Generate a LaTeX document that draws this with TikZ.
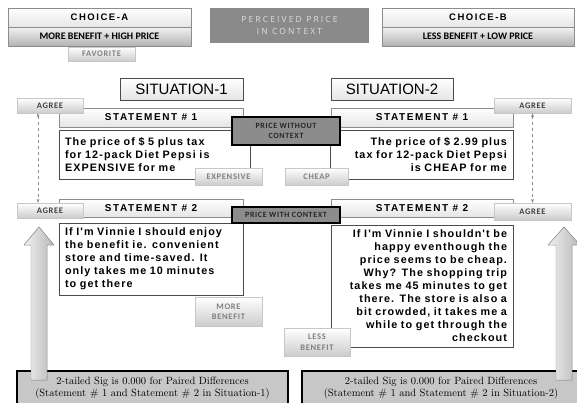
\documentclass[tikz,border=0pt]{standalone}
\usepackage{fontspec}
\newfontfamily\txtfont[LetterSpace=10, WordSpace=1.6]{Liberation Sans}
\newfontfamily\headfont[LetterSpace=16]{Liberation Sans}
\newfontfamily\sitfont{Liberation Sans}
\newfontfamily\tagfont[LetterSpace=8]{Carlito}
\newfontfamily\subfont{Carlito}
\newfontfamily\perfont[LetterSpace=25]{Open Sans}
\usetikzlibrary{shadows, arrows.meta}

\begin{document}
\begin{tikzpicture}[x=1pt, y=-1pt, every node/.style={inner sep=0pt},
    shadowed/.style={drop shadow={shadow xshift=1.2pt, shadow yshift=-1.2pt, opacity=.35}},
    headbox/.style={draw=black!45, top color=white, bottom color=black!10, shadowed},
    subbox/.style={draw=black!45, top color=black!5, bottom color=black!30,
        font=\subfont\bfseries\fontsize{10}{12}\selectfont},
    tagbox/.style={draw=black!22, top color=white, bottom color=black!20, shadowed,
        text=black!50, font=\tagfont\bfseries\fontsize{8.5}{10.5}\selectfont, align=center},
    agreebox/.style={tagbox, text=black!75},
    stmtbox/.style={headbox, font=\headfont\bfseries\fontsize{10}{12}\selectfont},
    txtbox/.style={draw=black!70, line width=.8pt, fill=white, shadowed, inner xsep=6pt,
        font=\txtfont\bfseries\fontsize{10.8}{13}\selectfont},
    pricebox/.style={draw=black, line width=1.8pt, fill=black!45, text=black!85,
        font=\tagfont\bfseries\fontsize{8}{10}\selectfont, align=center},
    sigbox/.style={draw=black, line width=1.1pt, fill=black!22,
        font=\rmfamily\fontsize{10.5}{11.5}\selectfont, align=center},
    bigarrow/.style={draw=black!45, left color=black!6, right color=black!28}]

    \useasboundingbox (0,0) rectangle (577,402);
    \clip (0,0) rectangle (577,402);

    % top row
    \node[tagbox, minimum width=67pt, minimum height=14pt] (fav) at (101.5,54) {FAVORITE};
    \node[headbox, minimum width=183pt, minimum height=19pt,
        font=\headfont\bfseries\fontsize{9.5}{11}\selectfont] (choiceA) at (99.5,17.5) {CHOICE-A};
    \node[subbox, minimum width=183pt, minimum height=19pt] (benefitA) at (99.5,36.5) {MORE BENEFIT + HIGH PRICE};
    \node[fill=black!46, minimum width=159pt, minimum height=35pt, text=black!12, align=center,
        font=\perfont\fontsize{8.5}{12}\selectfont] (perceived) at (289.5,25.5) {PERCEIVED PRICE\\IN CONTEXT};
    \node[headbox, minimum width=192pt, minimum height=19pt,
        font=\headfont\bfseries\fontsize{9.5}{11}\selectfont] (choiceB) at (478,17.5) {CHOICE-B};
    \node[subbox, minimum width=192pt, minimum height=19pt] (benefitB) at (478,36.5) {LESS BENEFIT + LOW PRICE};

    % situations
    \node[draw=black!70, top color=white, bottom color=black!10, shadowed, minimum width=123pt, minimum height=22pt,
        font=\sitfont\fontsize{15}{17}\selectfont] (sit1) at (181.5,89) {SITUATION-1};
    \node[draw=black!70, top color=white, bottom color=black!10, shadowed, minimum width=122pt, minimum height=22pt,
        font=\sitfont\fontsize{15}{17}\selectfont] (sit2) at (392,89) {SITUATION-2};

    % statement 1
    \node[stmtbox, minimum width=184pt, minimum height=19pt] (st1L) at (151,117.5) {STATEMENT \# 1};
    \node[stmtbox, minimum width=182pt, minimum height=19pt] (st1R) at (422,117.5) {STATEMENT \# 1};
    \node[txtbox, text width=179pt, minimum height=49pt, align=left] (txt1L) at (154.5,154.5)
        {The price of \$ 5 plus tax\\for 12-pack Diet Pepsi is\\EXPENSIVE for me};
    \node[txtbox, text width=171pt, minimum height=49pt, align=right] (txt1R) at (421.5,154.5)
        {The price of \$ 2.99 plus\\tax for 12-pack Diet Pepsi\\is CHEAP for me};

    % statement 2
    \node[stmtbox, minimum width=184pt, minimum height=18pt] (st2L) at (151,208) {STATEMENT \# 2};
    \node[stmtbox, minimum width=182pt, minimum height=18pt] (st2R) at (422,208) {STATEMENT \# 2};
    \node[txtbox, text width=172pt, minimum height=72pt, align=left] (txt2L) at (151,259)
        {If I'm Vinnie I should enjoy\\the benefit ie. convenient\\store and time-saved. It\\only takes me 10 minutes\\to get there};
    \node[txtbox, text width=170pt, minimum height=122pt, align=right] (txt2R) at (422,286)
        {If I'm Vinnie I shouldn't be\\happy eventhough the\\price seems to be cheap.\\Why? The shopping trip\\takes me 45 minutes to get\\there. The store is also a\\bit crowded, it takes me a\\while to get through the\\checkout};

    % tags
    \node[agreebox, minimum width=66pt, minimum height=15pt] (agreeTL) at (50,105.5) {AGREE};
    \node[agreebox, minimum width=77pt, minimum height=15pt] (agreeTR) at (532.5,105.5) {AGREE};
    \node[agreebox, minimum width=66pt, minimum height=15pt] (agreeBL) at (50,210.5) {AGREE};
    \node[agreebox, minimum width=77pt, minimum height=17pt] (agreeBR) at (532.5,211.5) {AGREE};
    \node[tagbox, minimum width=67pt, minimum height=17pt] (expensive) at (228.5,176.5) {EXPENSIVE};
    \node[tagbox, minimum width=63pt, minimum height=17pt] (cheap) at (316.5,176.5) {CHEAP};
    \node[tagbox, minimum width=67pt, minimum height=29pt] (more) at (228.5,311.5) {MORE\\BENEFIT};
    \node[tagbox, minimum width=66pt, minimum height=28pt] (less) at (317,342) {LESS\\BENEFIT};

    \node[pricebox, minimum width=108pt, minimum height=28pt] (noctx) at (286,131) {PRICE WITHOUT\\CONTEXT};
    \node[pricebox, minimum width=108pt, minimum height=16pt] (ctx) at (286,215) {PRICE WITH CONTEXT};

    \draw[black!45, dashed, {Stealth[length=4pt]}-{Stealth[length=4pt]}] ([xshift=-12pt]agreeTL.south) -- ([xshift=-12pt]agreeBL.north);
    \draw[black!45, dashed, {Stealth[length=4pt]}-{Stealth[length=4pt]}] (agreeTR.south) -- (agreeBR.north);

    % bottom
    \node[sigbox, minimum width=271pt, minimum height=34pt] (sig1) at (152.5,388)
        {2-tailed Sig is 0.000 for Paired Differences\\(Statement \# 1 and Statement \# 2 in Situation-1)};
    \node[sigbox, minimum width=278pt, minimum height=34pt] (sig2) at (441,388)
        {2-tailed Sig is 0.000 for Paired Differences\\(Statement \# 1 and Statement \# 2 in Situation-2)};

    \filldraw[bigarrow] (31,380) -- (31,245) -- (24,245) -- (39,227) -- (54,245) -- (47,245) -- (47,380) -- cycle;
    \filldraw[bigarrow] (556,380) -- (556,245) -- (548,245) -- (564,227) -- (580,245) -- (572,245) -- (572,380) -- cycle;
\end{tikzpicture}
\end{document}
